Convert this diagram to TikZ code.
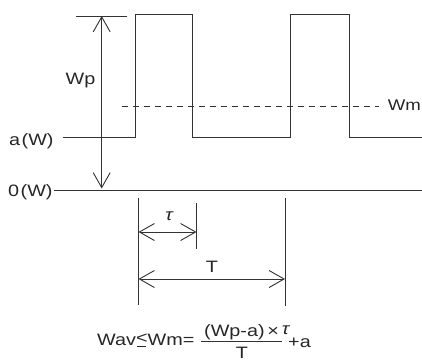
\documentclass[tikz,border=0pt]{standalone}
\usepackage{fontspec}
\setmainfont{Liberation Sans}[FakeStretch=1.2]
\usetikzlibrary{arrows.meta}
\newcommand\myleqbar{\mbox{\ooalign{\raisebox{0.12em}{<}\cr\hfil\rule[-0.1em]{0.55em}{0.065em}\hfil\cr}}}
\begin{document}
\begin{tikzpicture}[x=1pt,y=-1pt,
  ln/.style={line width=0.9pt, draw=black!80},
  dim/.style={ln, {Straight Barb[length=15pt,width=17pt]}-{Straight Barb[length=15pt,width=17pt]}},
  lbl/.style={inner sep=0pt, text=black!85, font=\fontsize{16.5}{19}\selectfont}]
\useasboundingbox (0,0) rectangle (422,362);
% peak-height dimension
\coordinate (tickL) at (76,16);
\coordinate (tickR) at (127,16);
\coordinate (wpTop) at (101.7,16);
\coordinate (wpBot) at (101.7,188.5);
\draw[ln] (tickL) -- (tickR);
\draw[dim] (wpTop) -- (wpBot);
% labels
\node[lbl, anchor=base] (wp) at (80.5,84) {Wp};
\node[lbl, anchor=base east, font=\fontsize{15.5}{19}\selectfont] (wm) at (421,110) {Wm};
\node[lbl, anchor=base west] (aw) at (9,145) {a\hspace{1.5pt}(W)};
\node[lbl, anchor=base west] (zw) at (8,196) {0\hspace{1.5pt}(W)};
% zero line
\coordinate (zeroL) at (54,190);
\coordinate (zeroR) at (422,190);
\draw[ln] (zeroL) -- (zeroR);
% waveform
\draw[ln] (62.5,137) -- (135.5,137) -- (135.5,14) -- (192,14) -- (192,137)
  -- (290,137) -- (290,14) -- (349.5,14) -- (349.5,137) -- (422,137);
% mean level
\coordinate (wmL) at (121.5,106.5);
\coordinate (wmR) at (379,106.5);
\draw[ln, dash pattern=on 6pt off 5pt] (wmL) -- (wmR);
% extension lines
\coordinate (eLt) at (138.5,198);
\coordinate (eLb) at (138.5,305);
\coordinate (eTt) at (196.5,203);
\coordinate (eTb) at (196.5,249);
\coordinate (eRt) at (285,198);
\coordinate (eRb) at (285,306);
\draw[ln] (eLt) -- (eLb);
\draw[ln] (eTt) -- (eTb);
\draw[ln] (eRt) -- (eRb);
% tau and T dimensions
\coordinate (tauL) at (138.5,232);
\coordinate (tauR) at (196.5,232);
\draw[dim] (tauL) -- (tauR);
\node[lbl] (taulbl) at (169,216) {\itshape τ};
\coordinate (TL) at (138.5,279);
\coordinate (TR) at (285,279);
\draw[dim] (TL) -- (TR);
\node[lbl, anchor=base] (Tlbl) at (212,272) {T};
% formula
\node[lbl, anchor=base west] (lhs) at (97,345) {Wav\myleqbar Wm=};
\coordinate (barL) at (201,341);
\coordinate (barR) at (282,341);
\draw[ln] (barL) -- (barR);
\node[lbl, anchor=base west] (num) at (204,336) {(Wp-a)\,×\,\raisebox{1.5pt}{\itshape τ}};
\node[lbl, anchor=base west] (pa) at (288,347) {+a};
\node[lbl, anchor=base] (den) at (242,358.5) {T};
\end{tikzpicture}
\end{document}
